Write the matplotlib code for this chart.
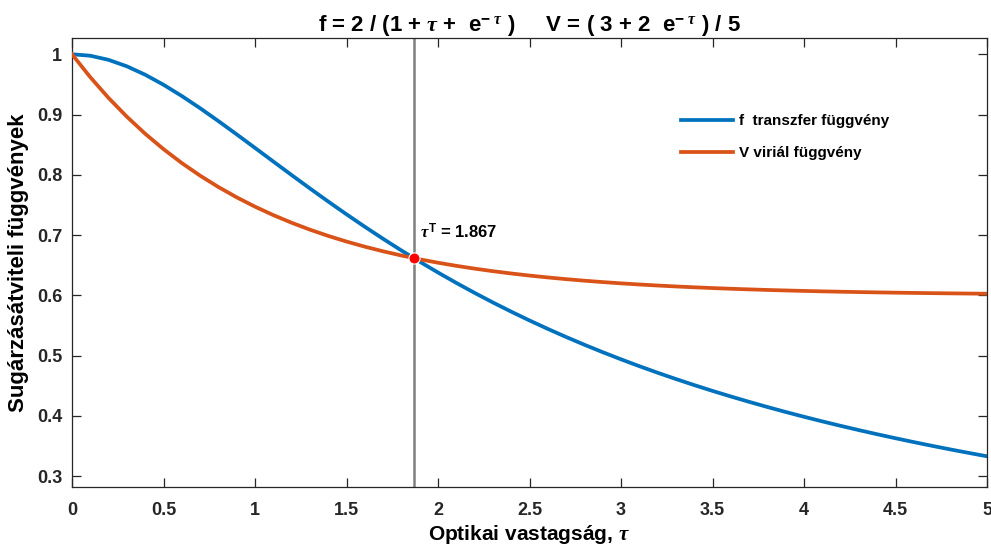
import matplotlib
matplotlib.use("Agg")
import matplotlib.pyplot as plt
from matplotlib.ticker import FuncFormatter

plt.rcParams['font.family'] = ['Liberation Sans', 'DejaVu Sans']
plt.rcParams['font.weight'] = 'bold'
plt.rcParams['mathtext.fontset'] = 'custom'
plt.rcParams['mathtext.rm'] = 'Liberation Sans:bold'
plt.rcParams['mathtext.it'] = 'Liberation Serif:italic:bold'
plt.rcParams['mathtext.bf'] = 'Liberation Sans:bold'

# optical thickness samples
tau = [0.0, 0.1, 0.2, 0.3, 0.4, 0.5, 0.6, 0.7, 0.8, 0.9,
       1.0, 1.1, 1.2, 1.3, 1.4, 1.5, 1.6, 1.7, 1.8, 1.9,
       2.0, 2.1, 2.2, 2.3, 2.4, 2.5, 2.6, 2.7, 2.8, 2.9,
       3.0, 3.1, 3.2, 3.3, 3.4, 3.5, 3.6, 3.7, 3.8, 3.9,
       4.0, 4.1, 4.2, 4.3, 4.4, 4.5, 4.6, 4.7, 4.8, 4.9, 5.0]

# f transfer function
f_vals = [1.0, 0.99759, 0.99072, 0.98000, 0.96604, 0.94943, 0.93075, 0.91050, 0.88915, 0.86709,
          0.84464, 0.82208, 0.79962, 0.77745, 0.75568, 0.73445, 0.71380, 0.69380, 0.67448, 0.65583,
          0.63789, 0.62064, 0.60408, 0.58819, 0.57295, 0.55833, 0.54432, 0.53090, 0.51803, 0.50569,
          0.49385, 0.48250, 0.47161, 0.46116, 0.45112, 0.44148, 0.43222, 0.42331, 0.41473, 0.40648,
          0.39854, 0.39089, 0.38351, 0.37640, 0.36953, 0.36290, 0.35650, 0.35032, 0.34434, 0.33856, 0.33296]

# V virial function
v_vals = [1.0, 0.96193, 0.92749, 0.89633, 0.86813, 0.84261, 0.81952, 0.79863, 0.77973, 0.76263,
          0.74715, 0.73315, 0.72048, 0.70901, 0.69864, 0.68925, 0.68076, 0.67307, 0.66612, 0.65983,
          0.65413, 0.64898, 0.64432, 0.64010, 0.63629, 0.63283, 0.62971, 0.62688, 0.62432, 0.62201,
          0.61991, 0.61802, 0.61630, 0.61475, 0.61335, 0.61208, 0.61093, 0.60989, 0.60895, 0.60810,
          0.60733, 0.60663, 0.60600, 0.60543, 0.60491, 0.60444, 0.60402, 0.60364, 0.60329, 0.60298, 0.60270]

tau_T = 1.867
y_T = 0.6618

x_ticks = [0, 0.5, 1, 1.5, 2, 2.5, 3, 3.5, 4, 4.5, 5]
y_ticks = [0.3, 0.4, 0.5, 0.6, 0.7, 0.8, 0.9, 1.0]

fig = plt.figure(figsize=(9.91, 5.48), dpi=100)
ax = fig.add_axes([72/991, 1 - 487/548, (987-72)/991, (487-38)/548])

ax.axvline(tau_T, color='#808080', lw=1.8, zorder=1)
ax.plot(tau, f_vals, color='#0072BD', lw=2.7, label='f  transzfer függvény', zorder=2)
ax.plot(tau, v_vals, color='#D95319', lw=2.7, label='V viriál függvény', zorder=3)
ax.plot([tau_T], [y_T], 'o', color='#FF0000', markeredgecolor='white', markeredgewidth=0.8,
        markersize=8, zorder=4)
ax.text(1.90, 0.705, r'$\tau^{\mathrm{T}}$ = 1.867', fontsize=12, fontweight='bold',
        ha='left', va='center')

ax.set_xlim(0, 5)
ax.set_ylim(0.282, 1.027)
ax.set_xticks(x_ticks)
ax.set_yticks(y_ticks)
fmt = FuncFormatter(lambda v, p: f'{v:g}')
ax.xaxis.set_major_formatter(fmt)
ax.yaxis.set_major_formatter(fmt)
ax.tick_params(direction='in', length=6.5, width=0.9, top=True, right=True,
               labelsize=13, colors='#262626')
ax.tick_params(axis='x', pad=11)
ax.tick_params(axis='y', pad=7)
for lab in ax.get_xticklabels() + ax.get_yticklabels():
    lab.set_fontweight('bold')
for s in ax.spines.values():
    s.set_color('#262626')
    s.set_linewidth(0.9)

ax.set_xlabel(r'Optikai vastagság, $\tau$', fontsize=15, fontweight='bold', labelpad=3)
ax.set_ylabel('Sugárzásátviteli függvények', fontsize=16, fontweight='bold', labelpad=6)
ax.set_title(r'f = 2 / (1 + $\tau$ +  e$^{-\ \tau}$ )     V = ( 3 + 2  e$^{-\ \tau}$ ) / 5',
             fontsize=16, fontweight='bold', pad=5)

leg = ax.legend(loc='upper left', bbox_to_anchor=(0.651, 0.861), frameon=False,
                fontsize=11, handlelength=3.4, handletextpad=0.4, labelspacing=1.16)
for t in leg.get_texts():
    t.set_fontweight('bold')

fig.savefig('out.png', dpi=100)
